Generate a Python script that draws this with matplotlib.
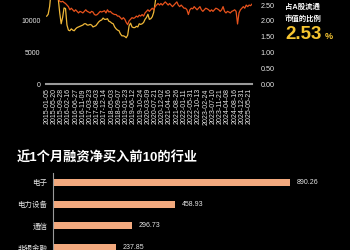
import matplotlib
matplotlib.use('Agg')
import matplotlib.pyplot as plt
import numpy as np

plt.rcParams['font.family'] = ['Liberation Sans', 'Noto Sans CJK SC', 'DejaVu Sans']

# ---------------- data ----------------
tick_dates = ['2015-01-05', '2015-05-20', '2015-09-28', '2016-02-16', '2016-06-27',
              '2016-11-09', '2017-03-23', '2017-08-03', '2017-12-14', '2018-05-03',
              '2018-09-07', '2019-01-23', '2019-06-12', '2019-10-24', '2020-03-09',
              '2020-07-21', '2020-12-02', '2021-04-16', '2021-08-26', '2022-01-11',
              '2022-05-31', '2022-10-13', '2023-02-24', '2023-07-10', '2023-11-21',
              '2024-04-08', '2024-08-16', '2024-12-31', '2025-05-21']
points_per_tick = 5

# 融资余额 (亿元), left axis
balance = [10700, 11000, 12200, 14500, 17500, 19800, 22500, 14500, 13400, 11200,
           9500, 10500, 12000, 11900, 9300, 8500, 8400, 8700, 8500, 8400,
           8700, 8900, 9000, 9100, 9200, 9300, 9500, 9500, 9300, 9300,
           9400, 9300, 9000, 9100, 9200, 9500, 9800, 10000, 10100, 10400,
           10200, 10200, 10300, 9900, 9800, 9600, 9500, 9000, 8700, 8500,
           8400, 7900, 7600, 7600, 7500, 7300, 7700, 9200, 9600, 9000,
           8900, 8900, 9100, 9000, 9500, 9400, 9500, 9700, 10200, 10500,
           11000, 10200, 10300, 10600, 11300, 12800, 14300, 14600, 14700, 14800,
           15300, 15800, 16000, 16100, 16200, 16500, 16900, 17400, 17800, 18000,
           18400, 18300, 18200, 18400, 18500, 17900, 17000, 16000, 15000, 15200,
           15400, 16100, 16100, 15800, 15300, 15000, 15000, 14900, 15000, 15600,
           15700, 15800, 15900, 15700, 15700, 15800, 15800, 15700, 15500, 15700,
           15600, 15300, 14400, 14600, 14700, 14800, 14900, 14600, 14300, 14100,
           13700, 13700, 15000, 16900, 17900, 18400, 18000, 18600, 18700, 18000,
           17900, 18200, 18800]

# 占A股流通市值的比例 (%), right axis
ratio = [3.30, 3.40, 3.50, 3.70, 3.90, 4.10, 4.30, 2.90, 2.70, 2.62,
         2.60, 2.62, 2.58, 2.55, 2.50, 2.45, 2.35, 2.40, 2.35, 2.30,
         2.35, 2.30, 2.25, 2.30, 2.28, 2.25, 2.30, 2.35, 2.30, 2.28,
         2.25, 2.30, 2.28, 2.20, 2.18, 2.20, 2.25, 2.30, 2.28, 2.30,
         2.32, 2.25, 2.35, 2.28, 2.30, 2.25, 2.22, 2.20, 2.20, 2.15,
         2.15, 2.10, 2.05, 2.10, 2.05, 1.95, 1.88, 2.00, 2.05, 2.10,
         2.08, 2.10, 2.15, 2.12, 2.18, 2.15, 2.20, 2.15, 2.25, 2.30,
         2.35, 2.30, 2.35, 2.40, 2.35, 2.45, 2.50, 2.55, 2.50, 2.55,
         2.50, 2.55, 2.60, 2.55, 2.50, 2.55, 2.50, 2.45, 2.50, 2.55,
         2.60, 2.50, 2.45, 2.50, 2.45, 2.40, 2.40, 2.35, 2.20, 2.35,
         2.40, 2.38, 2.45, 2.40, 2.35, 2.40, 2.45, 2.35, 2.30, 2.35,
         2.40, 2.38, 2.35, 2.30, 2.35, 2.30, 2.35, 2.40, 2.38, 2.35,
         2.30, 2.35, 2.45, 2.30, 2.25, 2.30, 2.28, 2.25, 2.30, 2.32,
         2.35, 2.30, 1.90, 2.25, 2.35, 2.40, 2.45, 2.40, 2.50, 2.45,
         2.50, 2.48, 2.53]

ratio_latest = '2.53'

industries = ['电子', '电力设备', '通信', '非银金融']
net_buy = [890.26, 458.93, 296.73, 237.85]

# ---------------- styles ----------------
BG = 'black'
YELLOW = '#F0B838'
ORANGE = '#E8521C'
TEXT = '#E6E6E6'
GREY = '#9A9A9A'
BAR = '#F2A97E'

W, H = 350, 250
fig = plt.figure(figsize=(W / 100, H / 100), dpi=100)
fig.patch.set_facecolor(BG)

# ---------------- top line chart ----------------
ax = fig.add_axes([46 / W, 1 - 84 / H, 206 / W, 84 / H])
ax.set_facecolor(BG)
x = np.arange(len(balance))
ax.plot(x, balance, color=YELLOW, lw=0.9)
ax.set_ylim(0, 13250)
ax.set_xlim(-0.5, len(balance) - 1)
ax.set_yticks([0, 5000, 10000])
ax.set_yticklabels(['0', '5000', '10000'])
ax.set_xticks(np.arange(len(tick_dates)) * points_per_tick)
ax.set_xticklabels(tick_dates, rotation=90)
ax.tick_params(axis='both', length=0, labelsize=5, colors=TEXT)
ax.tick_params(axis='y', pad=4)
ax.tick_params(axis='x', pad=3)
for s in ['top', 'right', 'left']:
    ax.spines[s].set_visible(False)
ax.spines['bottom'].set_color(GREY)
ax.spines['bottom'].set_linewidth(1.5)

ax2 = ax.twinx()
ax2.plot(x, ratio, color=ORANGE, lw=0.9)
ax2.set_ylim(0, 2.66)
ax2.set_yticks([0, 0.5, 1.0, 1.5, 2.0, 2.5])
ax2.yaxis.set_major_formatter('{x:.2f}')
ax2.tick_params(axis='y', length=0, labelsize=5.2, colors=TEXT, pad=6)
for s in ax2.spines.values():
    s.set_visible(False)

# right-hand annotation
fig.text(285 / W, 1 - 7.5 / H, '占A股流通', fontsize=5.3, weight='bold', color='white',
         ha='left', va='center')
fig.text(285 / W, 1 - 18.5 / H, '市值的比例', fontsize=5.3, weight='bold', color='white',
         ha='left', va='center')
fig.text(285 / W, 1 - 39.3 / H, ratio_latest, fontsize=13.5, weight='bold', color='#F5C431',
         ha='left', va='baseline')
fig.text(325 / W, 1 - 39.3 / H, '%', fontsize=6.5, weight='bold', color='#F5C431',
         ha='left', va='baseline')

# ---------------- bottom bar chart ----------------
fig.text(17 / W, 1 - 158 / H, '近1个月融资净买入前10的行业', fontsize=9.5, weight='bold',
         color='white', ha='left', va='center')

px_per_unit = 237 / 890.26
bx0, bx1 = 53, 330
by_top = 173
bar_pitch = 21.8
bar0_center = 182.3
axb = fig.add_axes([bx0 / W, 0, (bx1 - bx0) / W, (H - by_top) / H])
axb.set_facecolor(BG)
ypos = np.arange(len(industries))
axb.barh(ypos, net_buy, height=0.33, color=BAR)
axb.set_xlim(0, (bx1 - bx0) / px_per_unit)
axb.set_ylim((H - bar0_center) / bar_pitch, (by_top - bar0_center) / bar_pitch)
axb.set_yticks(ypos)
axb.set_yticklabels(industries)
axb.set_xticks([])
axb.tick_params(axis='y', length=0, labelsize=5.4, colors=TEXT, pad=4)
for s in ['top', 'right', 'bottom']:
    axb.spines[s].set_visible(False)
axb.spines['left'].set_color(GREY)
axb.spines['left'].set_linewidth(0.8)
for yi, v in zip(ypos, net_buy):
    axb.annotate(f'{v:.2f}', xy=(v, yi), xytext=(4.5, 0), textcoords='offset points',
                 va='center', ha='left', fontsize=5, color=TEXT)

fig.savefig('out.png', dpi=100, facecolor=BG)
